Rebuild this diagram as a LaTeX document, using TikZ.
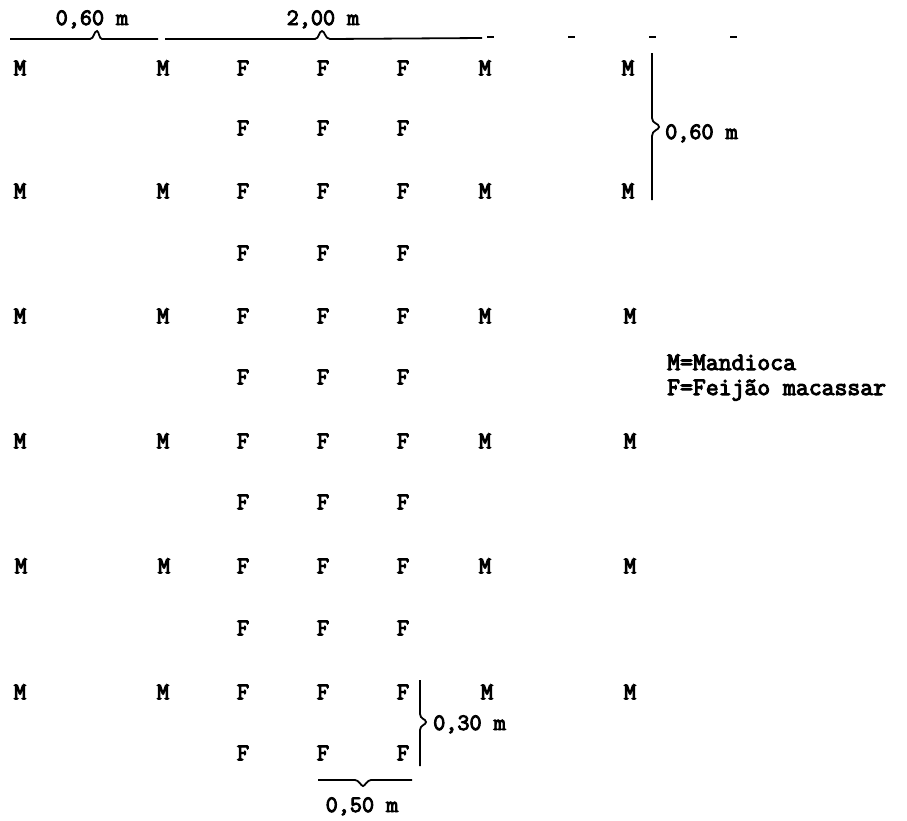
\documentclass[tikz,border=0pt]{standalone}
\usepackage{fontspec}
\usetikzlibrary{calc}
\newfontfamily\typer{Latin Modern Mono}[FakeBold=4]
\tikzset{
	plant/.style={font=\typer\fontsize{24}{24}\selectfont, inner sep=0pt},
	dimtext/.style={font=\typer\fontsize{23.5}{23.5}\selectfont, inner sep=0pt, anchor=base},
	keytext/.style={font=\typer\fontsize{25}{25}\selectfont, inner sep=0pt, anchor=base west},
	dimline/.style={line width=1.8pt},
}
\begin{document}
\begin{tikzpicture}[x=1pt,y=-1pt]
	\useasboundingbox (0,0) rectangle (907,820);

	% rows with mandioca and feijao
	\draw (20,68) node[plant](a1){M} (163,68) node[plant](b1){M} (243,68) node[plant](c1){F} (323,68) node[plant](d1){F} (403,68) node[plant](e1){F} (485,68) node[plant](f1){M} (628,68) node[plant](g1){M};
	\draw (20,191) node[plant](a2){M} (163,191) node[plant](b2){M} (243,191) node[plant](c2){F} (323,191) node[plant](d2){F} (403,191) node[plant](e2){F} (485,191) node[plant](f2){M} (628,191) node[plant](g2){M};
	\draw (20,316) node[plant](a3){M} (163,316) node[plant](b3){M} (243,316) node[plant](c3){F} (323,316) node[plant](d3){F} (403,316) node[plant](e3){F} (485,316) node[plant](f3){M} (630,316) node[plant](g3){M};
	\draw (20,441) node[plant](a4){M} (163,441) node[plant](b4){M} (243,441) node[plant](c4){F} (323,441) node[plant](d4){F} (403,441) node[plant](e4){F} (485,441) node[plant](f4){M} (630,441) node[plant](g4){M};
	\draw (21,566) node[plant](a5){M} (164,566) node[plant](b5){M} (243,566) node[plant](c5){F} (323,566) node[plant](d5){F} (403,566) node[plant](e5){F} (485,566) node[plant](f5){M} (630,566) node[plant](g5){M};
	\draw (20,692) node[plant](a6){M} (163,692) node[plant](b6){M} (243,692) node[plant](c6){F} (323,692) node[plant](d6){F} (403,692) node[plant](e6){F} (487,692) node[plant](f6){M} (630,692) node[plant](g6){M};

	% rows with feijao only
	\draw (243,128) node[plant](c1x){F} (323,128) node[plant](d1x){F} (403,128) node[plant](e1x){F};
	\draw (243,253) node[plant](c2x){F} (323,253) node[plant](d2x){F} (403,253) node[plant](e2x){F};
	\draw (243,377) node[plant](c3x){F} (323,377) node[plant](d3x){F} (403,377) node[plant](e3x){F};
	\draw (243,502) node[plant](c4x){F} (323,502) node[plant](d4x){F} (403,502) node[plant](e4x){F};
	\draw (243,628) node[plant](c5x){F} (323,628) node[plant](d5x){F} (403,628) node[plant](e5x){F};
	\draw (243,753) node[plant](c6x){F} (323,753) node[plant](d6x){F} (403,753) node[plant](e6x){F};

	% spacing marks
	\coordinate (t0) at (10,39);
	\coordinate (t1) at (158,39);
	\coordinate (t2) at (165,39);
	\coordinate (t3) at (482,38);
	\coordinate (t4) at (487,37);
	\coordinate (t5) at (737,37);
	\draw[dimline] (t0) -- ($(t0)!0.5!(t1)+(6,0)$) .. controls ++(4,0) and ++(-3,0) .. ++(7,-8) .. controls ++(2,0) and ++(-3,0) .. ++(5,8) -- (t1);
	\draw (92,25) node[dimtext](lab1){0,60 m};
	\draw[dimline] (t2) -- (315,39) .. controls (319,39) and (319,31) .. (322,31) .. controls (325,31) and (325,39) .. (330,39) -- (t3);
	\draw[dimline,dash pattern=on 7pt off 74pt] (t4) -- (t5);
	\draw (323,25) node[dimtext](lab2){2,00 m};

	\coordinate (r0) at (652,53);
	\coordinate (r1) at (652,200);
	\draw[dimline] (r0) -- (652,118) .. controls (652,124) and (659,123) .. (659,127) .. controls (659,130) and (652,130) .. (652,136) -- (r1);
	\draw (665,139) node[dimtext,anchor=base west](lab3){0,60 m};

	\coordinate (s0) at (420,680);
	\coordinate (s1) at (420,766);
	\draw[dimline] (s0) -- (420,714) .. controls (420,719) and (426,719) .. (426,722) .. controls (426,725) and (420,725) .. (420,730) -- (s1);
	\draw (433,730) node[dimtext,anchor=base west](lab4){0,30 m};

	\coordinate (u0) at (318,780);
	\coordinate (u1) at (412,780);
	\draw[dimline] (u0) -- (355,780) .. controls (359,780) and (361,786) .. (363,786) .. controls (365,786) and (367,780) .. (371,780) -- (u1);
	\draw (362,812) node[dimtext](lab5){0,50 m};

	% legend
	\draw (667,370) node[keytext](key1){M=Mandioca};
	\draw (667,395) node[keytext](key2){F=Feijão macassar};
\end{tikzpicture}
\end{document}
